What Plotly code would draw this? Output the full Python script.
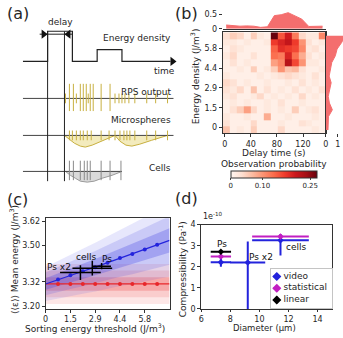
import plotly.graph_objects as go

W, H = 343, 338
FONT = "DejaVu Sans"
INK = "#262626"
LINE = "#333333"


def px(x):
    return x / W


def py(y):
    return 1 - y / H


# ---------------- (a) schematic data (time units / level units) ----------------
energy_t = [0, 25, 25, 50, 50, 75, 75, 100, 100, 149]
energy_rel = [0, 0, 1, 1, 0, 0, 0.39, 0.39, 0, 0]
ENERGY_BASE, ENERGY_AMP = 126, 31
delay_edges = [25, 42]
RPS_BASE, MICRO_BASE, CELL_BASE = 88, 50, 13
rps_tall = [47, 51, 58, 61, 64, 68, 71, 79, 88]
rps_short = [43, 54, 66, 93, 97, 100, 103, 107, 113, 125, 134, 146]
micro_spikes = [47, 50, 54, 58, 61, 65, 69, 79, 87, 93, 98, 102, 105, 108, 113, 125, 134, 146]
micro_env_t = [42, 47, 52, 58, 63, 70, 80, 90, 93, 98, 104, 110, 118, 130, 146]
micro_env_d = [0, 4, 8, 11, 12, 10, 6, 2, 0, 6, 10, 11, 9, 5, 0]
cell_spikes = [47, 51, 58, 62, 65, 68, 79, 88, 99]
cell_env_t = [43, 48, 53, 58, 65, 72, 80, 90, 100]
cell_env_d = [0, 4, 7, 10, 11, 10, 7, 4, 0]

# ---------------- (b) heatmap data ----------------
delay_centers = [2.3, 12.8, 23.4, 33.9, 44.5, 55.0, 65.5, 76.1, 86.6, 97.2, 107.7, 118.2, 128.8, 139.3, 149.9]
energy_centers = [-0.18, 0.32, 0.81, 1.31, 1.81, 2.30, 2.80, 3.30, 3.79, 4.29, 4.79, 5.28, 5.78, 6.28, 6.77]
# rows listed from highest energy (top) to lowest (bottom)
prob_rows_top_down = [
    [0.03, 0.05, 0.04, 0.01, 0.05, 0.02, 0.01, 0.27, 0.15, 0.20, 0.12, 0.04, 0.02, 0.02, 0.11],
    [0.02, 0.02, 0.01, 0.02, 0.01, 0.01, 0.02, 0.17, 0.19, 0.21, 0.17, 0.10, 0.03, 0.01, 0.02],
    [0.01, 0.03, 0.02, 0.01, 0.01, 0.01, 0.01, 0.14, 0.18, 0.17, 0.16, 0.11, 0.02, 0.03, 0.01],
    [0.02, 0.04, 0.01, 0.01, 0.03, 0.01, 0.01, 0.13, 0.12, 0.19, 0.13, 0.08, 0.03, 0.01, 0.02],
    [0.01, 0.03, 0.01, 0.02, 0.01, 0.01, 0.01, 0.09, 0.11, 0.22, 0.16, 0.10, 0.02, 0.02, 0.01],
    [0.01, 0.01, 0.02, 0.01, 0.05, 0.01, 0.02, 0.05, 0.10, 0.06, 0.07, 0.03, 0.01, 0.01, 0.02],
    [0.02, 0.01, 0.01, 0.01, 0.01, 0.02, 0.01, 0.02, 0.03, 0.04, 0.03, 0.02, 0.01, 0.03, 0.01],
    [0.04, 0.03, 0.01, 0.02, 0.01, 0.01, 0.02, 0.01, 0.01, 0.02, 0.01, 0.03, 0.01, 0.02, 0.01],
    [0.03, 0.02, 0.04, 0.01, 0.06, 0.01, 0.03, 0.01, 0.02, 0.01, 0.03, 0.01, 0.02, 0.01, 0.03],
    [0.02, 0.03, 0.01, 0.01, 0.02, 0.04, 0.01, 0.02, 0.01, 0.02, 0.01, 0.04, 0.01, 0.02, 0.01],
    [0.01, 0.02, 0.01, 0.02, 0.01, 0.01, 0.02, 0.01, 0.03, 0.01, 0.01, 0.02, 0.01, 0.01, 0.01],
    [0.01, 0.03, 0.05, 0.09, 0.04, 0.01, 0.02, 0.01, 0.02, 0.01, 0.05, 0.01, 0.02, 0.03, 0.01],
    [0.02, 0.01, 0.01, 0.02, 0.01, 0.01, 0.08, 0.01, 0.01, 0.02, 0.01, 0.01, 0.01, 0.02, 0.01],
    [0.03, 0.01, 0.01, 0.01, 0.04, 0.01, 0.01, 0.01, 0.02, 0.01, 0.01, 0.03, 0.02, 0.01, 0.01],
    [0.06, 0.01, 0.02, 0.01, 0.05, 0.01, 0.01, 0.01, 0.04, 0.01, 0.01, 0.01, 0.01, 0.02, 0.01],
]
marg_delay = [0.13, 0.10, 0.09, 0.10, 0.09, 0.05, 0.07, 0.45, 0.48, 0.55, 0.43, 0.33, 0.08, 0.08, 0.09]
marg_energy_top_down = [1.6, 1.35, 0.95, 0.8, 0.5, 0.4, 0.28, 0.45, 0.3, 0.2, 0.3, 0.55, 0.22, 0.2, 0.18]
energy_ticks = [0, 1.46, 2.92, 4.38, 5.84]
energy_ticktext = ["0", "1.5", "2.9", "4.4", "5.8"]
heat_colors = ["#fff5f0", "#fee0d2", "#fcbba1", "#fc9272", "#fb6a4a", "#ef3b2c", "#cb181d", "#a50f15", "#67000d"]

# ---------------- (c) data ----------------
threshold = [0, 0.73, 1.46, 2.19, 2.92, 3.65, 4.38, 5.11, 5.84, 6.57, 7.3]
blue_mean = [3.310, 3.332, 3.353, 3.373, 3.393, 3.415, 3.438, 3.458, 3.480, 3.503, 3.525]
blue_sd = [0.028, 0.031, 0.034, 0.037, 0.040, 0.043, 0.046, 0.050, 0.053, 0.056, 0.060]
red_mean = [3.31] * 11
red_sd = [0.033] * 11
cross_label = ["Ps x2", "cells", "Ps"]
cross_x = [2.05, 2.75, 3.3]
cross_xerr = [1.2, 1.17, 0.55]
cross_y = [3.366, 3.388, 3.398]
cross_yerr = [0.036, 0.036, 0.015]
cross_label_x = [0.8, 2.35, 3.6]
cross_label_y = [3.395, 3.443, 3.433]
c_xticks = [0, 1.46, 2.92, 4.38, 5.84]
c_xticktext = ["0", "1.5", "2.9", "4.4", "5.8"]
c_yticks = [3.20, 3.32, 3.50, 3.62]

# ---------------- (d) data (units of 1e-10 Pa^-1) ----------------
d_video = dict(x=[7.35, 9.2, 11.45], y=[2.22, 2.2, 3.26], xerr=[0.7, 1.2, 1.95],
               yerr_p=[0.22, 1.0, 0.3], yerr_m=[0.22, 2.2, 0.72])
d_stat = dict(x=[7.35, 11.45], y=[2.49, 3.44], xerr=[0.7, 1.95], yerr=[0.08, 0.08])
d_lin = dict(x=[7.35], y=[2.71], xerr=[0.7], yerr=[0.04])
d_labels = ["Ps", "Ps x2", "cells"]
d_label_x = [7.4, 10.1, 12.5]
d_label_y = [3.07, 2.47, 2.93]
legend_labels = ["video", "statistical", "linear"]

BLUE = "#2323dc"
MAG = "#c21fc2"
RED = "#e8262a"
GOLD = "#c8b040"

fig = go.Figure()


def segs(xs, lo, hi):
    X, Y = [], []
    for t in xs:
        X += [t, t, None]
        Y += [lo, hi, None]
    return X, Y


ax_a = dict(xaxis="x", yaxis="y", showlegend=False, hoverinfo="skip")
# envelopes
fig.add_trace(go.Scatter(x=micro_env_t, y=[MICRO_BASE - d for d in micro_env_d], mode="lines",
                         fill="toself", fillcolor="#f3ebbd", line=dict(color=GOLD, width=1), **ax_a))
fig.add_trace(go.Scatter(x=cell_env_t, y=[CELL_BASE - d for d in cell_env_d], mode="lines",
                         fill="toself", fillcolor="#dadada", line=dict(color="#9a9a9a", width=1), **ax_a))
# baselines
for base, end in [(RPS_BASE, 152), (MICRO_BASE, 152), (CELL_BASE, 100)]:
    fig.add_trace(go.Scatter(x=[0, end], y=[base, base], mode="lines",
                             line=dict(color="#444", width=1), **ax_a))
# spikes
X, Y = segs(rps_tall, RPS_BASE - 13, RPS_BASE + 15)
fig.add_trace(go.Scatter(x=X, y=Y, mode="lines", line=dict(color=GOLD, width=1), **ax_a))
X, Y = segs(rps_short, RPS_BASE - 5, RPS_BASE + 5)
fig.add_trace(go.Scatter(x=X, y=Y, mode="lines", line=dict(color=GOLD, width=1), **ax_a))
X, Y = segs(micro_spikes, MICRO_BASE - 5, MICRO_BASE + 5)
fig.add_trace(go.Scatter(x=X, y=Y, mode="lines", line=dict(color=GOLD, width=1), **ax_a))
X, Y = segs(cell_spikes, CELL_BASE - 9, CELL_BASE + 11)
fig.add_trace(go.Scatter(x=X, y=Y, mode="lines", line=dict(color="#8a8a8a", width=1), **ax_a))
# energy density trace
fig.add_trace(go.Scatter(x=energy_t, y=[ENERGY_BASE + ENERGY_AMP * r for r in energy_rel], mode="lines",
                         line=dict(color="#222", width=1.2), **ax_a))
fig.add_trace(go.Scatter(x=[151], y=[ENERGY_BASE], mode="markers",
                         marker=dict(symbol="triangle-right", size=8, color="#111"), **ax_a))
# delay lines and arrows
X, Y = segs(delay_edges, 3, ENERGY_BASE + ENERGY_AMP)
fig.add_trace(go.Scatter(x=X, y=Y, mode="lines", line=dict(color="#222", width=1), **ax_a))
fig.add_trace(go.Scatter(x=[delay_edges[0] - 8, delay_edges[1] + 8], y=[154, 154], mode="lines",
                         line=dict(color="#222", width=1), **ax_a))
fig.add_trace(go.Scatter(x=[delay_edges[0] - 4, delay_edges[1] + 4], y=[154, 154], mode="markers",
                         marker=dict(symbol=["triangle-right", "triangle-left"], size=8, color="#111"), **ax_a))

# ---------------- (b) heatmap + marginals ----------------
fig.add_trace(go.Heatmap(
    x=delay_centers, y=energy_centers, z=prob_rows_top_down[::-1],
    colorscale=[[i / 8, c] for i, c in enumerate(heat_colors)], zmin=0, zmax=0.27,
    xaxis="x2", yaxis="y2", hoverinfo="skip",
    colorbar=dict(orientation="h", x=px(273), xanchor="center", y=py(172), yanchor="top",
                  len=86, lenmode="pixels", thickness=7, xpad=0, ypad=0,
                  tickvals=[0, 0.1, 0.25], ticktext=["0", "0.10", "0.25"],
                  tickfont=dict(size=7, color=INK, family=FONT), ticks="outside", ticklen=2,
                  outlinewidth=1, outlinecolor=LINE)))
fig.add_trace(go.Scatter(x=delay_centers, y=marg_delay, mode="lines", fill="tozeroy",
                         fillcolor="#f46e6e", line=dict(color="#f46e6e", width=1),
                         xaxis="x3", yaxis="y3", showlegend=False, hoverinfo="skip"))
fig.add_trace(go.Scatter(x=marg_energy_top_down[::-1], y=energy_centers, mode="lines", fill="tozerox",
                         fillcolor="#f46e6e", line=dict(color="#f46e6e", width=1),
                         xaxis="x4", yaxis="y4", showlegend=False, hoverinfo="skip"))

# ---------------- (c) ----------------
ax_c = dict(xaxis="x5", yaxis="y5", showlegend=False, hoverinfo="skip")


def band(mean, sd, k, color):
    up = [m + k * s for m, s in zip(mean, sd)]
    lo = [m - k * s for m, s in zip(mean, sd)]
    fig.add_trace(go.Scatter(x=threshold + threshold[::-1], y=up + lo[::-1], mode="lines",
                             fill="toself", fillcolor=color, line=dict(width=0), **ax_c))


for k, a in [(3, 0.12), (2, 0.15), (1, 0.25)]:
    band(red_mean, red_sd, k, f"rgba(235,60,60,{a})")
for k, a in [(3, 0.13), (2, 0.18), (1, 0.30)]:
    band(blue_mean, blue_sd, k, f"rgba(70,70,230,{a})")
fig.add_trace(go.Scatter(x=threshold, y=red_mean, mode="lines", line=dict(color=RED, width=1.2), **ax_c))
fig.add_trace(go.Scatter(x=threshold[1:-1], y=red_mean[1:-1], mode="markers",
                         marker=dict(color=RED, size=4), **ax_c))
fig.add_trace(go.Scatter(x=threshold, y=blue_mean, mode="lines", line=dict(color=BLUE, width=1.2), **ax_c))
fig.add_trace(go.Scatter(x=threshold[1:-1], y=blue_mean[1:-1], mode="markers",
                         marker=dict(color=BLUE, size=4), **ax_c))
fig.add_trace(go.Scatter(x=cross_x, y=cross_y, mode="markers", marker=dict(color="black", size=1),
                         error_x=dict(type="data", array=cross_xerr, width=0, thickness=1.5, color="black"),
                         error_y=dict(type="data", array=cross_yerr, width=0, thickness=1.5, color="black"),
                         **ax_c))

# ---------------- (d) ----------------
ax_d = dict(xaxis="x6", yaxis="y6", hoverinfo="skip", showlegend=False)
fig.add_trace(go.Scatter(x=d_video["x"], y=d_video["y"], mode="markers",
                         marker=dict(color=BLUE, size=5, symbol="diamond"),
                         error_x=dict(type="data", array=d_video["xerr"], width=0, thickness=2, color=BLUE),
                         error_y=dict(type="data", array=d_video["yerr_p"], arrayminus=d_video["yerr_m"],
                                      width=0, thickness=2, color=BLUE), **ax_d))
fig.add_trace(go.Scatter(x=d_stat["x"], y=d_stat["y"], mode="markers",
                         marker=dict(color=MAG, size=5, symbol="diamond"),
                         error_x=dict(type="data", array=d_stat["xerr"], width=0, thickness=2, color=MAG),
                         error_y=dict(type="data", array=d_stat["yerr"], width=0, thickness=2, color=MAG), **ax_d))
fig.add_trace(go.Scatter(x=d_lin["x"], y=d_lin["y"], mode="markers",
                         marker=dict(color="black", size=5, symbol="diamond"),
                         error_x=dict(type="data", array=d_lin["xerr"], width=0, thickness=2, color="black"),
                         error_y=dict(type="data", array=d_lin["yerr"], width=0, thickness=2, color="black"), **ax_d))

# legend for (d), drawn in its own small box axis (rows 1..3)
leg_rows = [1, 2, 3]
leg_colors = [BLUE, MAG, "black"]
for r, c in zip(leg_rows, leg_colors):
    fig.add_trace(go.Scatter(x=[1], y=[r], mode="markers", marker=dict(color=c, size=7, symbol="diamond"),
                             error_x=dict(type="constant", value=0.55, width=0, thickness=2, color=c),
                             error_y=dict(type="constant", value=0.28, width=0, thickness=2, color=c),
                             xaxis="x7", yaxis="y7", hoverinfo="skip", showlegend=False))
fig.add_trace(go.Scatter(x=[2.1] * 3, y=leg_rows, mode="text", text=legend_labels,
                         textposition="middle right", textfont=dict(size=9, color=INK, family=FONT),
                         cliponaxis=False, xaxis="x7", yaxis="y7", hoverinfo="skip", showlegend=False))

# ---------------- layout ----------------
tick = dict(ticks="outside", ticklen=3, tickwidth=1, tickcolor=LINE, showline=True, linecolor=LINE,
            linewidth=1, showgrid=False, zeroline=False, tickfont=dict(size=8, color=INK, family=FONT),
            fixedrange=True)
hidden = dict(visible=False, fixedrange=True)
legbox = dict(showline=True, mirror=True, linecolor="#c4c4c4", linewidth=1, showticklabels=False,
              ticks="", showgrid=False, zeroline=False, fixedrange=True)

layout = dict(
    width=W, height=H, margin=dict(l=0, r=0, t=0, b=0), autosize=False,
    paper_bgcolor="white", plot_bgcolor="rgba(0,0,0,0)",
    font=dict(family=FONT, size=9, color=INK), showlegend=False,
    xaxis=dict(domain=[px(20), px(176)], range=[0, 156], anchor="y", **hidden),
    yaxis=dict(domain=[py(185), py(14)], range=[0, 171], anchor="x", **hidden),
    xaxis2=dict(domain=[px(221.7), px(325.7)], range=[-3, 155], anchor="y2", mirror=True,
                tickvals=[0, 40, 80, 120], **tick),
    yaxis2=dict(domain=[py(133), py(29)], range=[-0.43, 7.02], anchor="x2", mirror=True,
                tickvals=energy_ticks, ticktext=energy_ticktext, **tick),
    xaxis3=dict(domain=[px(221.7), px(325.7)], range=[-3, 155], anchor="y3", showticklabels=False,
                **{**tick, "ticks": ""}),
    yaxis3=dict(domain=[py(25.5), py(8)], range=[0, 0.58], anchor="x3", tickvals=[0, 0.5],
                ticktext=["0", "0.5"], **{**tick, "showline": False}),
    xaxis4=dict(domain=[px(325.7), px(343)], range=[0, 1.45], anchor="y4", tickvals=[0, 1],
                **{**tick, "showline": False}),
    yaxis4=dict(domain=[py(133), py(29)], range=[-0.43, 7.02], anchor="x4", showticklabels=False,
                **{**tick, "ticks": ""}),
    xaxis5=dict(domain=[px(43), px(168)], range=[0, 7.3], anchor="y5", mirror=True,
                tickvals=c_xticks, ticktext=c_xticktext, **tick),
    yaxis5=dict(domain=[py(313), py(220)], range=[3.188, 3.635], anchor="x5", mirror=True,
                tickvals=c_yticks, ticktext=["3.20", "3.32", "3.50", "3.62"], **tick),
    xaxis6=dict(domain=[px(200), px(332)], range=[6, 15], anchor="y6", mirror=True,
                tickvals=[6, 8, 10, 12, 14], **{**tick, "ticklen": 2}),
    yaxis6=dict(domain=[py(313.3), py(226.7)], range=[0, 4], anchor="x6", mirror=True,
                tickvals=[0, 1, 2, 3, 4], **tick),
    xaxis7=dict(domain=[px(270), px(332)], range=[0, 10], anchor="y7", **legbox),
    yaxis7=dict(domain=[py(312), py(272)], range=[3.65, 0.35], anchor="x7", **legbox),
)
fig.update_layout(**layout)


def note(text, x, y, size=9, xanchor="center", yanchor="middle", angle=0, xref="paper", yref="paper", color=INK):
    fig.add_annotation(text=text, x=x, y=y, xref=xref, yref=yref, showarrow=False, xanchor=xanchor,
                       yanchor=yanchor, textangle=angle, font=dict(size=size, color=color, family=FONT))


# panel labels
note("(a)", px(2), py(10), size=16, xanchor="left")
note("(b)", px(172), py(10), size=16, xanchor="left")
note("(c)", px(2), py(201), size=16, xanchor="left")
note("(d)", px(172), py(200), size=16, xanchor="left")

# (a) labels
note("delay", px(58), py(19))
note("Energy density", px(171), py(35), xanchor="right")
note("time", px(176), py(69), xanchor="right")
note("RPS output", px(172), py(90), xanchor="right")
note("Microspheres", px(172), py(119), xanchor="right")
note("Cells", px(172), py(168), xanchor="right")

# (b) labels
note("Energy density (J/m<sup>3</sup>)", px(194), py(74), angle=-90)
note("Delay time (s)", px(273), py(153))
note("Observation probability", px(273), py(164.5))

# (c) labels
note("⟨⟨ε⟩⟩ Mean energy (J/m<sup>3</sup>)", px(11), py(262), angle=-90)
note("Sorting energy threshold (J/m<sup>3</sup>)", px(93), py(333))
for lab, x, y in zip(cross_label, cross_label_x, cross_label_y):
    note(lab, x, y, xref="x5", yref="y5", color="#111")

# (d) labels
note("1e<sup>-10</sup>", px(200), py(218), size=8, xanchor="left")
note("Compressibility (Pa<sup>-1</sup>)", px(181), py(272), angle=-90)
note("Diameter (μm)", px(264), py(333), size=8.5)
for lab, x, y in zip(d_labels, d_label_x, d_label_y):
    note(lab, x, y, xref="x6", yref="y6", color="#111")

fig.write_html("out.html")
